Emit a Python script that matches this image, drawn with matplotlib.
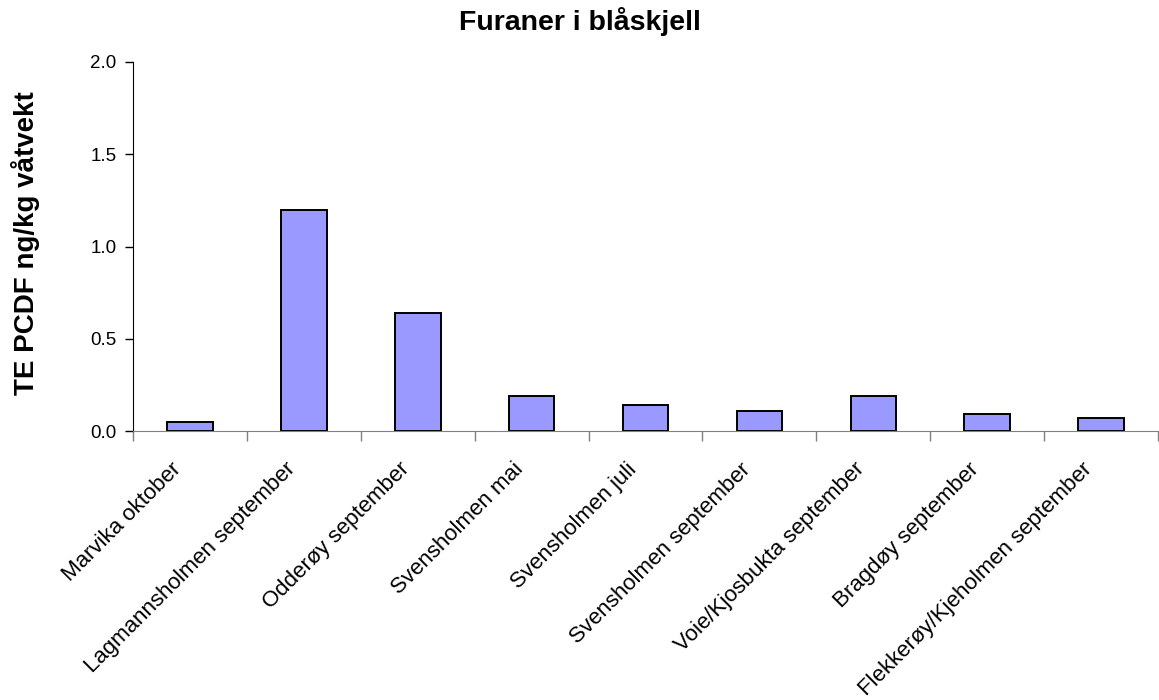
import numpy as np
import matplotlib
matplotlib.use('Agg')
import matplotlib.pyplot as plt
import matplotlib.transforms as mtransforms
from matplotlib import rcParams

rcParams['font.family'] = ['Liberation Sans', 'DejaVu Sans']

# data
stations = ['Marvika oktober', 'Lagmannsholmen september', 'Odderøy september',
            'Svensholmen mai', 'Svensholmen juli', 'Svensholmen september',
            'Voie/Kjosbukta september', 'Bragdøy september',
            'Flekkerøy/Kjeholmen september']
te_pcdf = [0.05, 1.20, 0.64, 0.19, 0.14, 0.11, 0.19, 0.09, 0.07]
y_ticks = [0.0, 0.5, 1.0, 1.5, 2.0]

title_text = 'Furaner i blåskjell'
ylabel_text = 'TE PCDF ng/kg våtvekt'

fig = plt.figure(figsize=(11.59, 7.0), dpi=100)
ax = fig.add_axes([133 / 1159, 1 - 431 / 700, 1025 / 1159, 369 / 700])

x = np.arange(len(stations))
ax.bar(x, te_pcdf, width=0.4, color='#9999FF', edgecolor='black', linewidth=1.4, zorder=3)

ax.set_xlim(-0.5, len(stations) - 0.5)
ax.set_ylim(0, 2.0)

# y axis
ax.set_yticks(y_ticks)
ax.set_yticklabels(['%.1f' % v for v in y_ticks], fontsize=13.5)
ax.tick_params(axis='y', length=6, width=1, color='black', pad=6)

# x axis: tick marks between categories, labels at the centres
ax.set_xticks(np.arange(len(stations) + 1) - 0.5)
ax.set_xticklabels([])
ax.tick_params(axis='x', which='major', length=7, width=1, color='#808080')
ax.set_xticks(x, minor=True)
ax.set_xticklabels(stations, minor=True, rotation=45, ha='right', va='top',
                   rotation_mode='anchor', fontsize=16)
ax.tick_params(axis='x', which='minor', length=0, pad=20)
offset = mtransforms.ScaledTranslation(-19 / 100, 0, fig.dpi_scale_trans)
for lbl in ax.xaxis.get_minorticklabels():
    lbl.set_transform(lbl.get_transform() + offset)

for side in ['top', 'right']:
    ax.spines[side].set_visible(False)
ax.spines['left'].set_color('black')
ax.spines['bottom'].set_color('#808080')
ax.spines['bottom'].set_zorder(4)

fig.text(0.5, 1 - 21 / 700, title_text, ha='center', va='center',
         fontsize=20.5, fontweight='bold')
fig.text(26 / 1159, 1 - 243 / 700, ylabel_text, ha='center', va='center',
         rotation=90, fontsize=20, fontweight='bold')

fig.savefig('out.png', dpi=100)
